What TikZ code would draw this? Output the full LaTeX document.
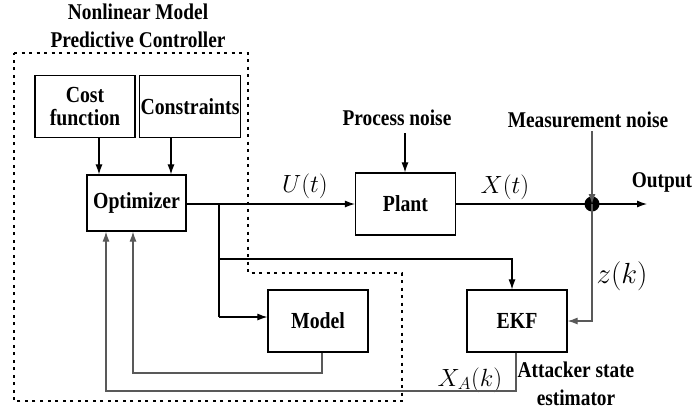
\documentclass[tikz,border=0pt]{standalone}
\usepackage{fontspec}
\setmainfont{Liberation Serif}[FakeStretch=0.86]
\usetikzlibrary{arrows.meta}
\tikzset{
  blk/.style={draw,line width=1.2pt,minimum width=100pt,minimum height=62pt,inner sep=1pt,align=center,font=\fontsize{23}{23}\selectfont\bfseries},
  lbl/.style={align=center,font=\fontsize{22.5}{28}\selectfont\bfseries},
  sig/.style={transform shape,scale=#1},
  arr/.style={line width=1.1pt,-{Latex[length=10pt,width=7pt]}},
  ln/.style={line width=1.1pt},
  fb/.style={line width=1.1pt,black!65}
}
\begin{document}
\begin{tikzpicture}[x=1pt,y=-1pt]
  \useasboundingbox (0,0) rectangle (693,413);
  % blocks
  \node[blk] (cost) at (85,106.5) {Cost\\function};
  \node[blk] (cons) at (190,106.5) {Constraints};
  \node[blk,minimum width=99pt,minimum height=56pt] (opt) at (136.5,203) {Optimizer};
  \node[blk] (plant) at (405.5,204) {Plant};
  \node[blk] (model) at (318,321) {Model};
  \node[blk] (ekf) at (517,321) {EKF};
  \fill (592,204) circle (7.5) coordinate (sum);
  \path (219,203) coordinate (br) (219,259) coordinate (br1) (219,317) coordinate (br2)
    (405,133) coordinate (pn) (592,131) coordinate (mn) (647,204) coordinate (out);
  % controller boundary
  \draw[line width=1.5pt,dash pattern=on 3pt off 4.5pt] (14,53) -- (248,53) -- (248,273) -- (402,273) -- (402,401) -- (14,401) -- cycle;
  % texts
  \node[lbl] (nmpc) at (138,26) {Nonlinear Model\\Predictive Controller};
  \node[lbl] (pnl) at (397,118) {Process noise};
  \node[lbl] (mnl) at (588,120) {Measurement noise};
  \node[lbl] (outl) at (662,182) {Output};
  \node[lbl] (att) at (576,384) {Attacker state\\estimator};
  \foreach \p/\t/\s/\k in {{(305,186)}/U(t)/23.5/1,{(505,187)}/X(t)/23.5/1,{(622,276)}/z(k)/24/1.17,{(470,380)}/X_A(k)/23/1}
    \node[sig=\k,font=\fontsize{\s}{\s}\selectfont] at \p {$\t$};
  % signals
  \draw[arr] (cost.south -| 99,0) -- (opt.north -| 99,0);
  \draw[arr] (cons.south -| 171,0) -- (opt.north -| 171,0);
  \draw[arr] (opt.east |- plant.west) -- (plant.west);
  \draw[arr] (pn) -- (plant.north -| pn);
  \draw[ln] (plant.east) -- (sum);
  \draw[arr,black!65] (mn) -- (sum.north);
  \draw[arr] (sum) -- (out);
  \draw[arr,black!65] (sum) |- (ekf.east);
  \draw[ln] (br) -- (br2);
  \draw[arr] (br1) -| (ekf.north -| 512,0);
  \draw[arr] (br2) -- (br2 -| model.west);
  \draw[fb,-{Latex[length=10pt,width=7pt]}] (model.south -| 322,0) -- (322,373) -| (opt.south -| 133,0);
  \draw[fb,-{Latex[length=10pt,width=7pt]}] (ekf.south -| 516,0) -- (516,391) -| (opt.south -| 106,0);
\end{tikzpicture}
\end{document}
